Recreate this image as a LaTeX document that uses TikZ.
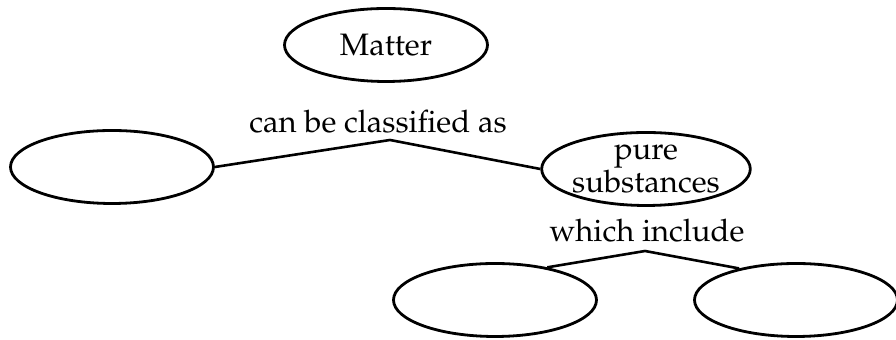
\documentclass[tikz,border=0pt]{standalone}
\usepackage[T1]{fontenc}
\usepackage{mathpazo}
\usetikzlibrary{shapes}
\begin{document}
\begin{tikzpicture}[
    x=0.5pt, y=-0.5pt,
    bubble/.style={ellipse, draw, line width=1.4pt, minimum width=101.5pt, minimum height=36.5pt, inner sep=0pt, align=center, font=\fontsize{15.5}{13}\selectfont},
    phrase/.style={anchor=base, inner sep=0pt, font=\fontsize{15.5}{13}\selectfont},
    link/.style={line width=1.3pt}
]
\useasboundingbox (0,0) rectangle (896,340);
\node[bubble] (matter) at (386,45) {Matter};
\node[bubble] (mixtures) at (112,167) {};
\node[bubble] (pure) at (646,169) {pure\\substances};
\node[bubble] (elements) at (495,300) {};
\node[bubble] (compounds) at (796,300) {};
\node[phrase] (classified) at (378,133) {can be classified as};
\node[phrase] (include) at (647,242) {which include};
\coordinate (fork1) at (390,140);
\coordinate (fork2) at (645,251);

\draw[link] (mixtures.east) -- (fork1) -- (pure.west);
\draw[link] (fork2) -- (elements.32);
\draw[link] (fork2) -- (compounds.151);
\end{tikzpicture}
\end{document}
